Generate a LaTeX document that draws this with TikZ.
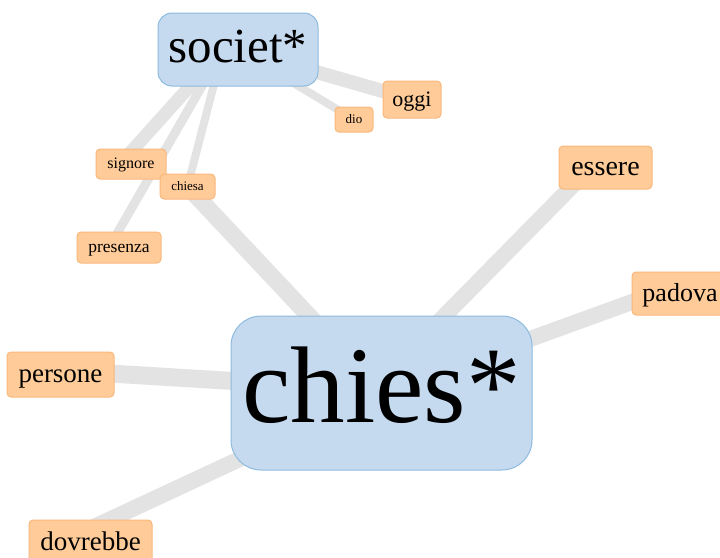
\documentclass[tikz,border=0pt]{standalone}
\usepackage{fontspec}
\setmainfont{Liberation Serif}
\usetikzlibrary{calc,backgrounds}

\definecolor{hubfill}{RGB}{198,218,239}
\definecolor{hubline}{RGB}{141,187,223}
\definecolor{leaffill}{RGB}{255,204,153}
\definecolor{leafline}{RGB}{249,183,124}
\definecolor{linkgray}{RGB}{227,227,227}

\newcommand{\fsz}[1]{\fontsize{#1}{#1}\selectfont}

\tikzset{
  % font size in pt; the text box height is a fixed share of it so words sit centred
  fs/.code={\pgfmathsetlengthmacro\termxh{0.45*#1pt}%
            \tikzset{font=\fsz{#1}, text height=\termxh, text depth=0pt}},
  lfs/.code={\pgfmathsetlengthmacro\termxh{0.6*#1pt}%
            \tikzset{font=\fsz{#1}, text height=\termxh, text depth=0pt}},
  term/.style={line width=1pt, inner sep=0pt, text=black},
  hub/.style={term, draw=hubline, fill=hubfill},
  leaf/.style={term, draw=leafline, fill=leaffill, rounded corners=4pt},
  link/.style={draw=linkgray, line cap=butt},
}

\begin{document}
\begin{tikzpicture}[x=1pt, y=-1pt]
  \useasboundingbox (0,0) rectangle (720,557);

  % hub terms
  \node[hub, rounded corners=14pt, minimum width=160pt, minimum height=73pt,
        fs=49] (societ) at (238,49.5) {\raisebox{-2pt}{societ*}};
  \node[hub, rounded corners=30pt, minimum width=301pt, minimum height=154pt,
        fs=109] (chies) at (381.5,393) {\raisebox{-5pt}{chies*}};

  % associated terms
  \node[leaf, minimum width=58pt, minimum height=37pt, lfs=22] (oggi) at (412,99.5) {oggi};
  \node[leaf, minimum width=38pt, minimum height=25pt, lfs=13] (dio) at (354,119.5) {dio};
  \node[leaf, minimum width=70pt, minimum height=30pt, lfs=16] (signore) at (131,164) {signore};
  \node[leaf, minimum width=55pt, minimum height=25pt, lfs=13] (chiesa) at (187.5,186.5) {chiesa};
  \node[leaf, minimum width=84pt, minimum height=31pt, lfs=17.5] (presenza) at (119,247.5) {presenza};
  \node[leaf, minimum width=93pt, minimum height=43pt, lfs=28] (essere) at (605.5,167.5) {essere};
  \node[leaf, minimum width=96pt, minimum height=43pt, lfs=26] (padova) at (680,293.5) {padova};
  \node[leaf, minimum width=107pt, minimum height=45pt, lfs=27] (persone) at (60.5,374.5) {persone};
  \node[leaf, minimum width=123pt, minimum height=45pt, lfs=27] (dovrebbe) at (90.5,542.5) {dovrebbe};

  % links behind the terms
  \begin{scope}[on background layer]
    \draw[link, line width=13pt] ($(societ)+(-15,0)$) -- ($(signore)+(-11,0)$);
    \draw[link, line width=9pt]  ($(societ)+(-15,0)$) -- ($(presenza)+(-10,0)$);
    \draw[link, line width=8pt]  ($(societ)+(-15,0)$) -- (chiesa.center);
    \draw[link, line width=14pt] (societ.center) -- (oggi.center);
    \draw[link, line width=8pt]  (societ.center) -- (dio.center);
    \draw[link, line width=17pt] (chies.center) -- (chiesa.center);
    \draw[link, line width=16pt] ($(chies)+(-13,0)$) -- ($(essere)+(-15,0)$);
    \draw[link, line width=16pt] (chies.center) -- ($(padova)+(0,-9)$);
    \draw[link, line width=18pt] ($(chies)+(0,-3)$) -- ($(persone)+(0,-4)$);
    \draw[link, line width=16pt] (chies.center) -- ($(dovrebbe)+(0,-14)$);
  \end{scope}
\end{tikzpicture}
\end{document}
